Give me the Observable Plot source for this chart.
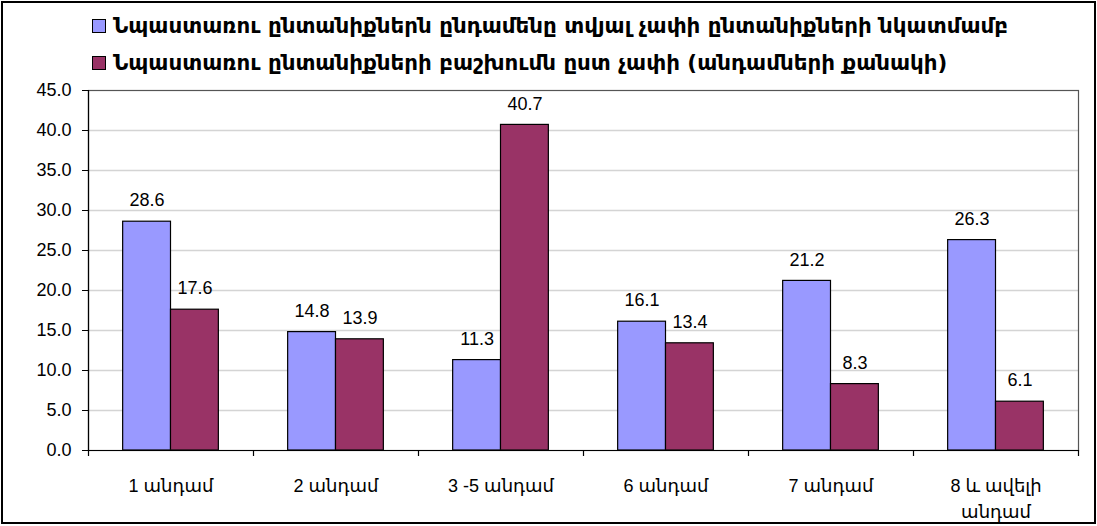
<!DOCTYPE html>
<html>
<head>
<meta charset="utf-8">
<script src="https://cdn.jsdelivr.net/npm/d3@7"></script>
<script src="https://cdn.jsdelivr.net/npm/@observablehq/plot@0.6"></script>
<style>
  html, body { margin: 0; padding: 0; background: #fff; }
  #wrap { position: relative; width: 1097px; height: 526px; overflow: hidden; background: #fff; }
  #border { position: absolute; left: 1px; top: 1px; width: 1095px; height: 523px; box-sizing: border-box; border: 2px solid #000; pointer-events: none; }
  #legend { position: absolute; left: 92px; top: 7px; font-family: "DejaVu Sans", sans-serif; font-weight: bold; font-size: 21.4px; color: #000; }
  .item { display: flex; align-items: center; height: 37px; }
  .sw { width: 12px; height: 12px; border: 1px solid #000; margin-right: 7px; flex: none; }
  #chart { position: absolute; left: 0; top: 0; }
</style>
</head>
<body>
<div id="wrap">
  <div id="chart"></div>
  <div id="legend"></div>
  <div id="border"></div>
</div>
<script>
const categories = ["1 անդամ", "2 անդամ", "3 -5 անդամ", "6 անդամ", "7 անդամ", "8 և ավելի\nանդամ"];
const seriesNames = [
  "Նպաստառու ընտանիքներն ընդամենը տվյալ չափի ընտանիքների նկատմամբ",
  "Նպաստառու ընտանիքների բաշխումն ըստ չափի (անդամների քանակի)"
];
const seriesA = [28.6, 14.8, 11.3, 16.1, 21.2, 26.3];
const seriesB = [17.6, 13.9, 40.7, 13.4, 8.3, 6.1];
const yTicks = [0, 5, 10, 15, 20, 25, 30, 35, 40, 45];
const colors = ["#9999FF", "#993366"];

const W = 1097, H = 526;
const mL = 88, mR = 19, mT = 90, mB = 76;
const step = (W - mL - mR) / categories.length;
const barW = step * 0.29;
const outer = (step - 2 * barW) / 2;

const rowsA = categories.map((c, i) => ({cat: c, v: seriesA[i]}));
const rowsB = categories.map((c, i) => ({cat: c, v: seriesB[i]}));
const fmt = d3.format(".1f");

const plot = Plot.plot({
  width: W, height: H,
  marginLeft: mL, marginRight: mR, marginTop: mT, marginBottom: mB,
  style: {fontFamily: "'Liberation Sans', Arial, 'DejaVu Sans', sans-serif", fontSize: "18px", color: "#000", background: "transparent"},
  x: {domain: categories, padding: 0, axis: null},
  y: {domain: [0, 45], axis: null},
  marks: [
    Plot.ruleY(yTicks.filter(d => d > 0 && d < 45), {stroke: "#d4d4d4", strokeWidth: 1.5}),
    Plot.barY(rowsA, {x: "cat", y: "v", fill: colors[0], stroke: "#000", strokeWidth: 1.2, insetLeft: outer, insetRight: outer + barW}),
    Plot.barY(rowsB, {x: "cat", y: "v", fill: colors[1], stroke: "#000", strokeWidth: 1.2, insetLeft: outer + barW, insetRight: outer}),
    Plot.text(rowsA, {x: "cat", y: "v", text: d => fmt(d.v), dx: -barW / 2, dy: -21, fontSize: 18}),
    Plot.text(rowsB, {x: "cat", y: "v", text: d => fmt(d.v), dx: barW / 2, dy: -21, fontSize: 18}),
    Plot.frame({stroke: "#555", strokeWidth: 1.2}),
    Plot.ruleX([categories[0]], {dx: -step / 2, stroke: "#000", strokeWidth: 1.2}),
    Plot.ruleY([0], {stroke: "#000", strokeWidth: 1.2}),
    Plot.ruleX(categories, {x: d => d, dx: -step / 2, y1: 0, y2: -0.75, stroke: "#000", strokeWidth: 1.2}),
    Plot.ruleX([categories[categories.length - 1]], {dx: step / 2, y1: 0, y2: -0.75, stroke: "#000", strokeWidth: 1.2}),
    Plot.axisY(yTicks, {tickSize: 6, tickPadding: 11, tickFormat: fmt, fontSize: 18, stroke: "#000", label: null}),
    Plot.axisX({tickSize: 0, tickPadding: 24, fontSize: 18, lineHeight: 1.4, label: null})
  ]
});
document.getElementById("chart").appendChild(plot);

const leg = document.getElementById("legend");
seriesNames.forEach((n, i) => {
  const row = document.createElement("div");
  row.className = "item";
  const sw = document.createElement("span");
  sw.className = "sw";
  sw.style.background = colors[i];
  const t = document.createElement("span");
  t.textContent = n;
  row.appendChild(sw); row.appendChild(t);
  leg.appendChild(row);
});
</script>
</body>
</html>
